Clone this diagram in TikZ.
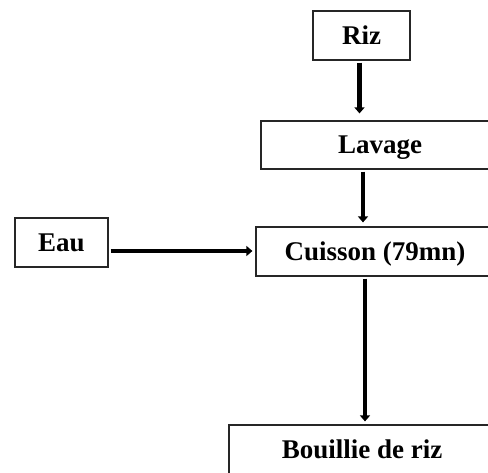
\documentclass[tikz,border=0pt]{standalone}
\usepackage{fontspec}
\setmainfont{Liberation Serif}
\usetikzlibrary{arrows.meta,calc}
\tikzset{
  stepbox/.style={draw=black!85,line width=1.2pt,fill=white,
    inner sep=0pt,text height=17pt,text depth=0pt,
    font=\fontsize{27}{31}\selectfont\bfseries},
  flow/.style={line width=4.2pt,-{Triangle[length=6pt,width=10pt]},
    shorten >=4pt,shorten <=2pt}
}
\begin{document}
\begin{tikzpicture}[x=1pt,y=-1pt]
        \useasboundingbox
          [fill=white]
          (0,0) rectangle (488,472)
        ;
        \clip (0,0) rectangle (488,472);
        \node (riz) [stepbox,minimum width=97pt,minimum height=49pt]
          at (361.5,35.5) {Riz};
        \node (lavage) [stepbox,minimum width=238pt,minimum height=48pt]
          at (380,145) {Lavage};
        \node (cuisson) [stepbox,minimum width=238pt,minimum height=49pt]
          at (375,251.5) {Cuisson (79mn)};
        \node (eau) [stepbox,minimum width=93pt,minimum height=49pt]
          at (61.5,242.5) {Eau};
        \node (bouillie) [stepbox,minimum width=266pt,minimum height=50pt]
          at (362,450) {Bouillie de riz};
        \draw [flow,shorten >=7pt]
          (riz.south -| 359.5,0)
          -- (lavage.north -| 359.5,0)
        ;
        \draw [flow]
          (lavage.south -| 363,0)
          -- (cuisson.north -| 363,0)
        ;
        \draw [flow,shorten >=3pt]
          (cuisson.south -| 365,0)
          -- (bouillie.north -| 365,0)
        ;
        \draw [flow,shorten >=3pt]
          (eau.east |- 0,251)
          -- (cuisson.west |- 0,251)
        ;
      \end{tikzpicture}
\end{document}
